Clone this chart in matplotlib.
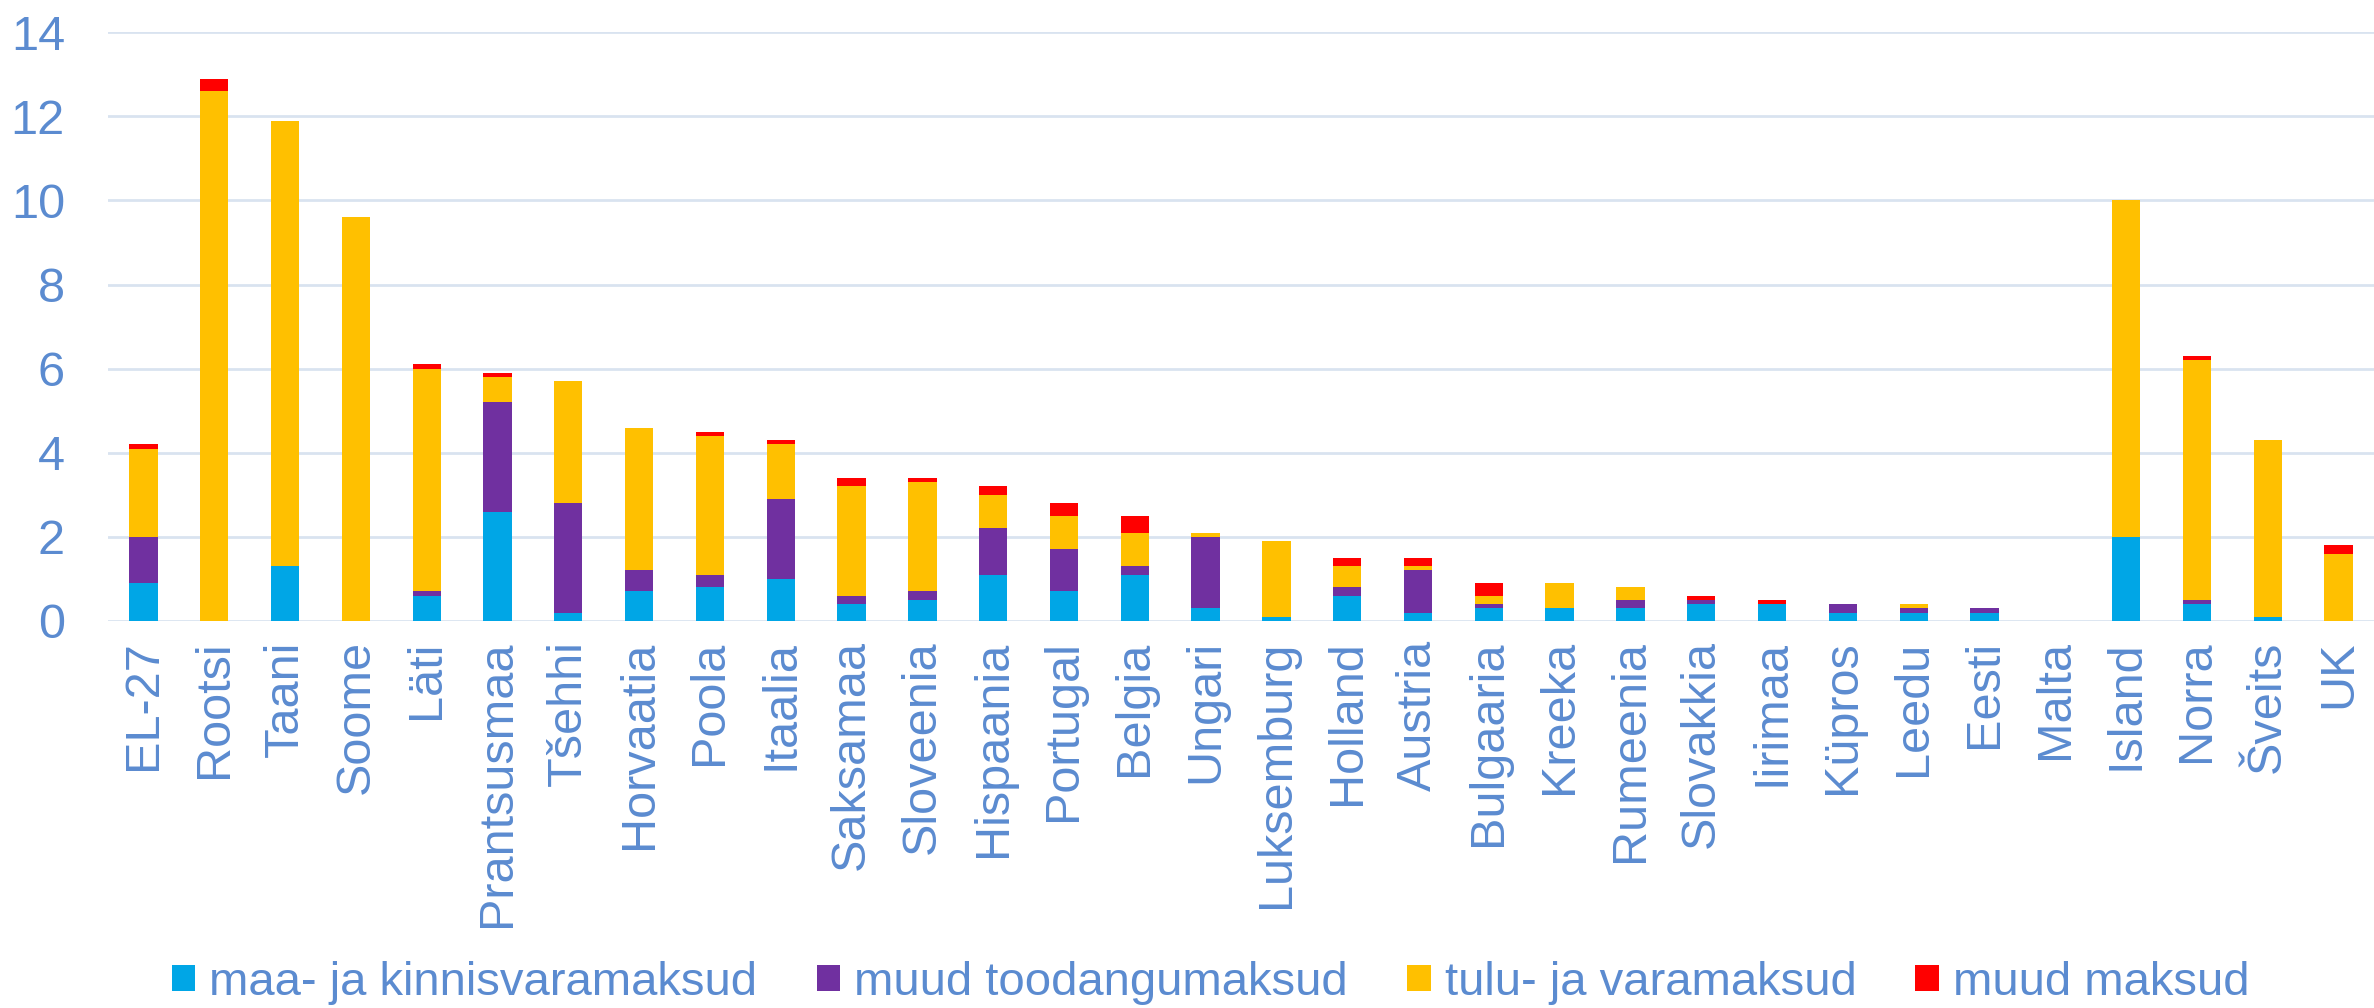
import numpy as np
import matplotlib
matplotlib.use('Agg')
import matplotlib.pyplot as plt

plt.rcParams['font.family'] = ['Liberation Sans', 'DejaVu Sans']

# data
countries = ['EL-27', 'Rootsi', 'Taani', 'Soome', 'Läti', 'Prantsusmaa', 'Tšehhi',
             'Horvaatia', 'Poola', 'Itaalia', 'Saksamaa', 'Sloveenia', 'Hispaania',
             'Portugal', 'Belgia', 'Ungari', 'Luksemburg', 'Holland', 'Austria',
             'Bulgaaria', 'Kreeka', 'Rumeenia', 'Slovakkia', 'Iirimaa', 'Küpros',
             'Leedu', 'Eesti', 'Malta', 'Island', 'Norra', 'Šveits', 'UK']

maa_kinnisvara = [0.9, 0, 1.3, 0, 0.6, 2.6, 0.2, 0.7, 0.8, 1.0, 0.4, 0.5, 1.1, 0.7, 1.1, 0.3,
                  0.1, 0.6, 0.2, 0.3, 0.3, 0.3, 0.4, 0.4, 0.2, 0.2, 0.2, 0, 2.0, 0.4, 0.1, 0]
muud_toodangu = [1.1, 0, 0, 0, 0.1, 2.6, 2.6, 0.5, 0.3, 1.9, 0.2, 0.2, 1.1, 1.0, 0.2, 1.7,
                 0, 0.2, 1.0, 0.1, 0, 0.2, 0.1, 0, 0.2, 0.1, 0.1, 0, 0, 0.1, 0, 0]
tulu_vara = [2.1, 12.6, 10.6, 9.6, 5.3, 0.6, 2.9, 3.4, 3.3, 1.3, 2.6, 2.6, 0.8, 0.8, 0.8, 0.1,
             1.8, 0.5, 0.1, 0.2, 0.6, 0.3, 0, 0, 0, 0.1, 0, 0, 8.0, 5.7, 4.2, 1.6]
muud_maksud = [0.1, 0.3, 0, 0, 0.1, 0.1, 0, 0, 0.1, 0.1, 0.2, 0.1, 0.2, 0.3, 0.4, 0,
               0, 0.2, 0.2, 0.3, 0, 0, 0.1, 0.1, 0, 0, 0, 0, 0, 0.1, 0, 0.2]

series = [
    ('maa- ja kinnisvaramaksud', maa_kinnisvara, '#00A6E6'),
    ('muud toodangumaksud', muud_toodangu, '#7030A0'),
    ('tulu- ja varamaksud', tulu_vara, '#FFC000'),
    ('muud maksud', muud_maksud, '#FF0000'),
]

txt = '#5B8BD0'
fig = plt.figure(figsize=(23.74, 10.08), dpi=100)
ax = fig.add_axes([0.0455, 0.384, 0.9545, 0.584])

x = np.arange(len(countries))
bottom = np.zeros(len(countries))
for name, vals, col in series:
    vals = np.array(vals, dtype=float)
    ax.bar(x, vals, 0.4, bottom=bottom, color=col, label=name, zorder=3)
    bottom += vals

ax.set_xlim(-0.5, len(countries) - 0.5)
ax.set_ylim(0, 14)
ax.set_yticks(range(0, 15, 2))
ax.set_xticks(x)
ax.set_xticklabels(countries, rotation=90, va='top', ha='center')
ax.tick_params(axis='both', length=0, labelsize=35, colors=txt)
ax.tick_params(axis='y', pad=31)
ax.tick_params(axis='x', pad=14)
ax.grid(axis='y', color='#D9E3F0', linewidth=2, zorder=0)
ax.set_axisbelow(True)
for s in ax.spines.values():
    s.set_visible(False)

leg = fig.legend(loc='center', bbox_to_anchor=(0.510, 0.025), ncol=4, frameon=False,
                 fontsize=34, handlelength=0.5, handleheight=0.5,
                 handletextpad=0.3, columnspacing=1.25)
for t in leg.get_texts():
    t.set_color(txt)

fig.savefig('out.png', dpi=100)
